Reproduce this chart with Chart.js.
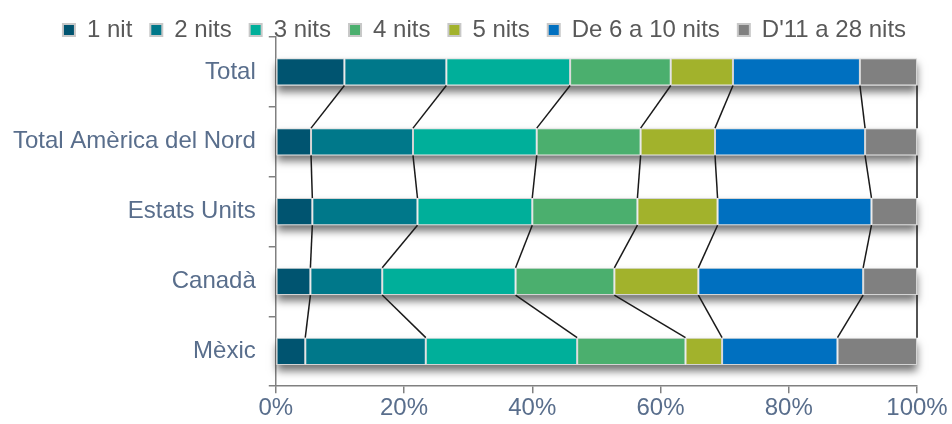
<!DOCTYPE html>
<html>
<head>
<meta charset="utf-8">
<script src="https://cdn.jsdelivr.net/npm/chart.js@4"></script>
<style>
  html, body { margin: 0; padding: 0; background: #fff; }
  #wrap { width: 952px; height: 424px; }
</style>
</head>
<body>
<div id="wrap"><canvas id="nightsChart"></canvas></div>
<script>
// Categories (top to bottom)
const categories = ["Total", "Total Amèrica del Nord", "Estats Units", "Canadà", "Mèxic"];

// Share of stays by number of nights (%)
const nit1 = [10.7, 5.5, 5.7, 5.4, 4.6];
const nits2 = [15.9, 15.9, 16.4, 11.2, 18.8];
const nits3 = [19.3, 19.3, 17.9, 20.8, 23.6];
const nits4 = [15.7, 16.2, 16.4, 15.4, 16.9];
const nits5 = [9.7, 11.6, 12.5, 13.1, 5.7];
const nits6to10 = [19.8, 23.4, 24.0, 25.7, 18.0];
const nits11to28 = [8.9, 8.1, 7.1, 8.4, 12.4];

const seriesNames = ["1 nit", "2 nits", "3 nits", "4 nits", "5 nits", "De 6 a 10 nits", "D'11 a 28 nits"];
const seriesValues = [nit1, nits2, nits3, nits4, nits5, nits6to10, nits11to28];
const seriesColors = ["#005470", "#00788a", "#00af9a", "#4baf6e", "#a2b22c", "#0070c0", "#808080"];

const xTicks = [0, 20, 40, 60, 80, 100];

const labelColor = "#596e8c";
const legendColor = "#595959";
const axisColor = "#808080";
const fontFamily = "'Liberation Sans', Arial, sans-serif";

// Soft shadow under each whole bar
const barShadow = {
  id: "barShadow",
  beforeDatasetsDraw(chart) {
    const ctx = chart.ctx;
    const first = chart.getDatasetMeta(0).data;
    const last = chart.getDatasetMeta(chart.data.datasets.length - 1).data;
    ctx.save();
    ctx.shadowColor = "rgba(0,0,0,0.55)";
    ctx.shadowBlur = 8;
    ctx.shadowOffsetY = 6;
    ctx.fillStyle = "#ffffff";
    first.forEach((bar, i) => {
      const end = last[i];
      ctx.fillRect(bar.base, bar.y - bar.height / 2, end.x - bar.base, bar.height);
    });
    ctx.restore();
  },
};

// Series lines joining the segment edges of neighbouring bars
const seriesLines = {
  id: "seriesLines",
  afterDatasetsDraw(chart) {
    const ctx = chart.ctx;
    ctx.save();
    ctx.strokeStyle = "#1a1a1a";
    ctx.lineWidth = 1.5;
    chart.data.datasets.forEach((ds, d) => {
      const bars = chart.getDatasetMeta(d).data;
      for (let i = 0; i < bars.length - 1; i++) {
        const a = bars[i];
        const b = bars[i + 1];
        ctx.beginPath();
        ctx.moveTo(a.x, a.y + a.height / 2);
        ctx.lineTo(b.x, b.y - b.height / 2);
        ctx.stroke();
      }
    });
    ctx.restore();
  },
};

// Keep the legend row compact and nudge it a little to the right
const legendTweak = {
  id: "legendTweak",
  beforeLayout(chart) {
    const lg = chart.legend;
    if (lg && !lg._fixedFit) {
      const fit = lg.fit.bind(lg);
      lg.fit = function () {
        fit();
        this.height = 37;
      };
      lg._fixedFit = true;
    }
  },
  afterLayout(chart) {
    const lg = chart.legend;
    if (lg) {
      lg.left += 26;
      lg.right += 26;
    }
  },
};

const ctx = document.getElementById("nightsChart").getContext("2d");
const nightsChart = new Chart(ctx, {
  type: "bar",
  data: {
    labels: categories,
    datasets: seriesNames.map((name, i) => ({
      label: name,
      data: seriesValues[i],
      backgroundColor: seriesColors[i],
      borderColor: "#d4d4d4",
      borderWidth: 1,
      borderSkipped: false,
      categoryPercentage: 1,
      barPercentage: 0.39,
    })),
  },
  options: {
    indexAxis: "y",
    responsive: true,
    maintainAspectRatio: false,
    animation: false,
    layout: { padding: { left: 0, right: 35, top: 0, bottom: 0 } },
    plugins: {
      legend: {
        position: "top",
        labels: {
          boxWidth: 12,
          boxHeight: 12,
          padding: 18,
          color: legendColor,
          font: { family: fontFamily, size: 24 },
          generateLabels(chart) {
            return chart.data.datasets.map((ds, i) => ({
              text: ds.label,
              fillStyle: ds.backgroundColor,
              strokeStyle: "#c8c8c8",
              fontColor: legendColor,
              lineWidth: 2,
              datasetIndex: i,
            }));
          },
        },
      },
      tooltip: { enabled: false },
    },
    scales: {
      x: {
        stacked: true,
        min: 0,
        max: 100,
        afterBuildTicks(axis) {
          axis.ticks = xTicks.map((v) => ({ value: v }));
        },
        grid: { drawOnChartArea: false, drawTicks: true, tickLength: 7, color: axisColor, lineWidth: 1.5 },
        border: { color: axisColor, width: 1.5 },
        ticks: {
          color: labelColor,
          padding: 1,
          font: { family: fontFamily, size: 24 },
          callback: (v) => v + "%",
        },
      },
      y: {
        stacked: true,
        grid: { drawOnChartArea: false, drawTicks: true, tickLength: 7, offset: true, color: axisColor, lineWidth: 1.5 },
        border: { color: axisColor, width: 1.5 },
        ticks: {
          color: labelColor,
          padding: 13,
          font: { family: fontFamily, size: 24 },
        },
      },
    },
  },
  plugins: [barShadow, seriesLines, legendTweak],
});
</script>
</body>
</html>
